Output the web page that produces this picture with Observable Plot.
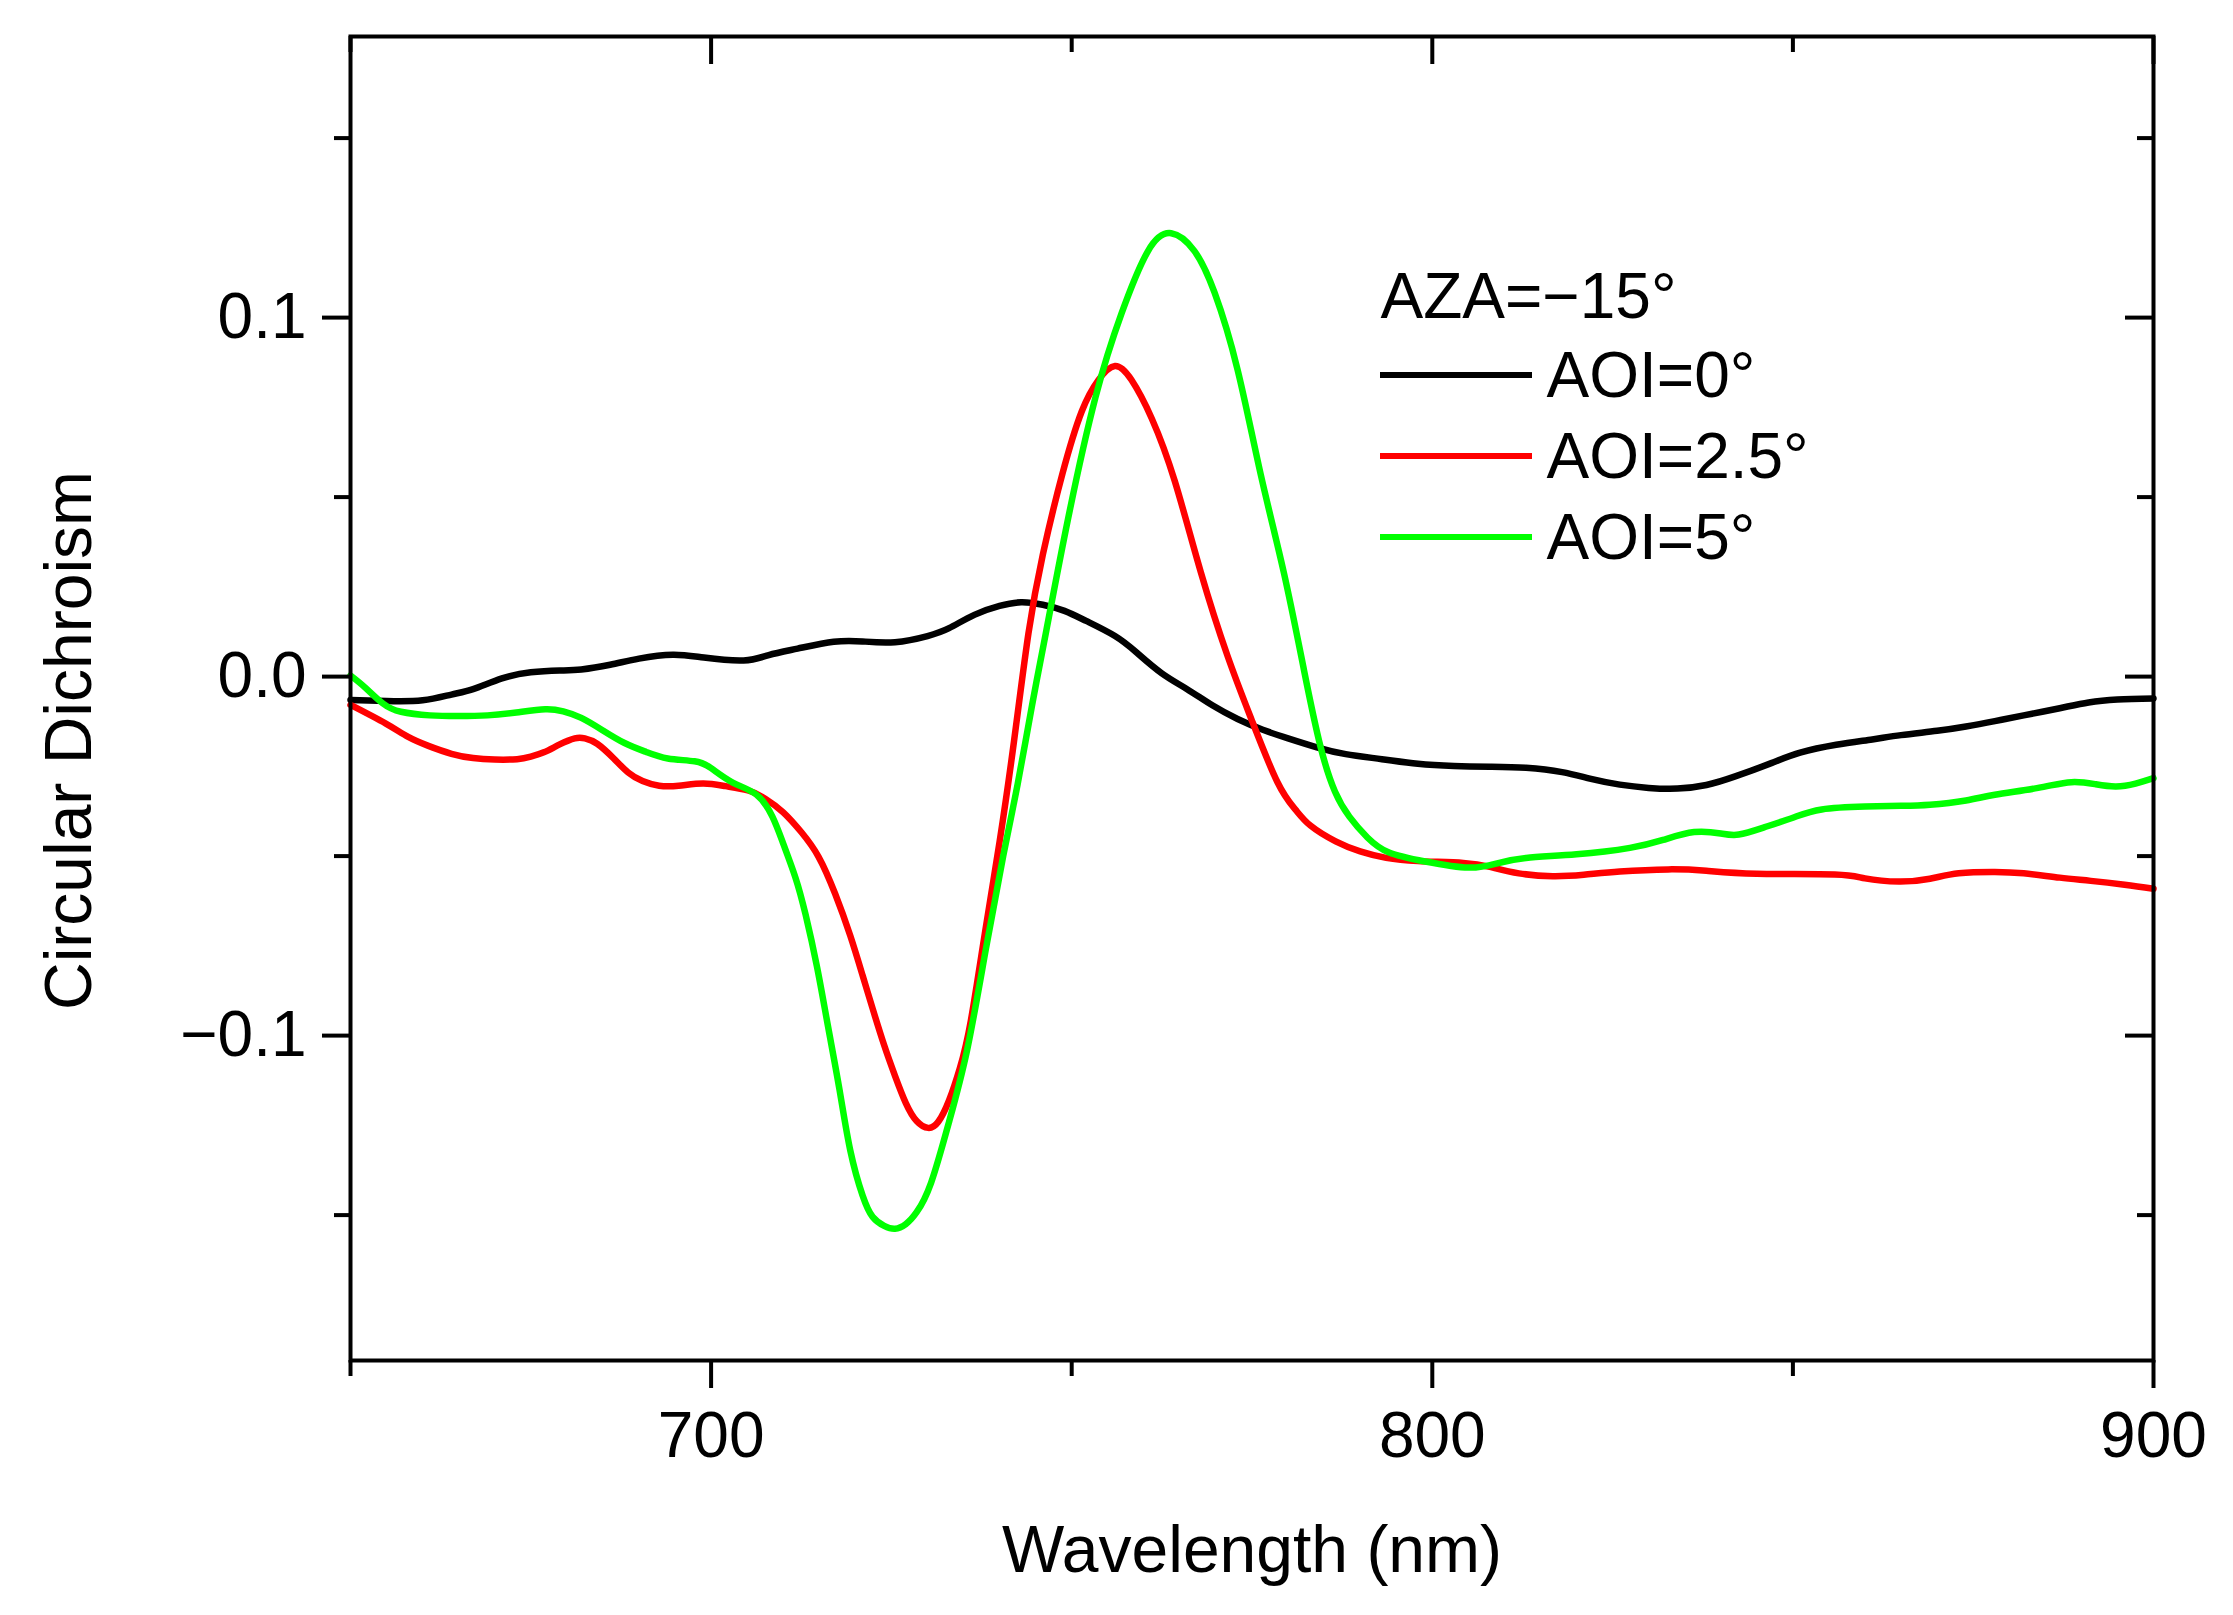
<!DOCTYPE html>
<html>
<head>
<meta charset="utf-8">
<script src="https://cdn.jsdelivr.net/npm/d3@7"></script>
<script src="https://cdn.jsdelivr.net/npm/@observablehq/plot@0.6"></script>
<style>
  body { margin: 0; background: #fff; }
</style>
</head>
<body>
<div id="chart"></div>
<script>
// AOI = 0 deg (black)
const wl0 = [650, 655, 660, 664, 667, 671, 675, 679, 682, 686, 690, 694.7, 699, 704.5, 708, 712, 717, 721, 725.5, 730, 733, 736.5, 740, 743, 746, 749, 752, 756, 759, 762.5, 766, 769.5, 773, 776.5, 780, 784, 788, 793, 798, 803, 808, 813, 818, 822, 826, 830, 834, 838, 842, 847, 851, 856, 861, 865, 870, 874, 878, 882, 887, 891, 895, 900];
const cd0 = [-0.0065, -0.0068, -0.0066, -0.005, -0.0035, -0.0005, 0.0012, 0.0017, 0.002, 0.0033, 0.005, 0.0061, 0.0053, 0.0045, 0.006, 0.0078, 0.0097, 0.0098, 0.0096, 0.0113, 0.0135, 0.0172, 0.0197, 0.0207, 0.02, 0.0183, 0.0155, 0.0113, 0.0067, 0.0009, -0.0035, -0.008, -0.0118, -0.0148, -0.0172, -0.0197, -0.0216, -0.023, -0.0243, -0.0249, -0.0251, -0.0254, -0.0266, -0.0285, -0.0301, -0.031, -0.0312, -0.0302, -0.0278, -0.0241, -0.0212, -0.019, -0.0175, -0.0163, -0.0151, -0.0139, -0.0124, -0.0108, -0.0088, -0.0072, -0.0064, -0.0061];

// AOI = 2.5 deg (red)
const wl25 = [650, 654.9, 658, 660.8, 664, 667, 670, 673.1, 675, 676.8, 679, 681.1, 682.5, 684.2, 686.5, 688.5, 690.5, 692.8, 695.5, 698.9, 702, 705.1, 707.5, 710, 712.5, 714.9, 717.2, 719.3, 721, 722.4, 724, 725.5, 727, 728.5, 730.1, 731.5, 733, 734.5, 736, 738, 740, 742, 744, 746, 748.7, 751.4, 753.7, 756, 758.3, 761.1, 764.3, 767.9, 771.6, 774.9, 778.5, 781, 783.1, 786.6, 790, 793.6, 798, 804.3, 808, 812, 816.7, 821, 826, 832.7, 838, 845, 855.8, 860, 864.7, 869, 873, 878, 882, 887, 891.3, 896, 900];
const cd25 = [-0.0079, -0.0131, -0.0168, -0.0193, -0.0215, -0.0227, -0.0231, -0.023, -0.0223, -0.0211, -0.0189, -0.0172, -0.0172, -0.0187, -0.0228, -0.0267, -0.0291, -0.0304, -0.0304, -0.0298, -0.0305, -0.0317, -0.034, -0.0378, -0.0433, -0.0502, -0.0605, -0.0722, -0.0832, -0.0925, -0.1027, -0.1112, -0.1188, -0.1238, -0.1257, -0.124, -0.118, -0.109, -0.096, -0.071, -0.046, -0.018, 0.012, 0.034, 0.0564, 0.0739, 0.0826, 0.0865, 0.0826, 0.0719, 0.0544, 0.0291, 0.0058, -0.0118, -0.0293, -0.037, -0.0415, -0.0459, -0.0487, -0.0505, -0.0514, -0.0519, -0.053, -0.0548, -0.0556, -0.0552, -0.0543, -0.0537, -0.0541, -0.0549, -0.0551, -0.0562, -0.0571, -0.0563, -0.0548, -0.0544, -0.0548, -0.056, -0.0569, -0.058, -0.0591];

// AOI = 5 deg (green)
const wl5 = [650, 652, 654.5, 657, 661, 665, 669, 673, 677, 679.5, 682, 685, 688, 691, 694, 697.7, 700, 703, 706.3, 708.5, 710, 711.7, 713.1, 714.7, 716.2, 717.8, 719.3, 721, 722.4, 724, 725.5, 727, 728.5, 730.5, 733, 735.5, 738, 740.5, 742.5, 744.5, 746.5, 749.5, 753.3, 756.9, 760.6, 763.8, 767, 769.8, 773, 776.2, 779.4, 782.2, 784.5, 786.5, 788.5, 791, 794, 799, 805, 809, 813, 820, 827.4, 832, 836.3, 840, 842.5, 846, 850, 854, 860, 865, 869, 874, 878, 884, 888.6, 892, 894.8, 897.5, 900];
const cd5 = [0.0003, -0.003, -0.0075, -0.0098, -0.0108, -0.011, -0.0108, -0.01, -0.0091, -0.0097, -0.0115, -0.015, -0.0185, -0.021, -0.0228, -0.0236, -0.0255, -0.0295, -0.0329, -0.039, -0.0465, -0.056, -0.0663, -0.081, -0.0973, -0.115, -0.132, -0.1445, -0.1505, -0.153, -0.1538, -0.1525, -0.1492, -0.141, -0.124, -0.104, -0.077, -0.05, -0.03, -0.008, 0.013, 0.044, 0.0778, 0.1011, 0.1186, 0.1235, 0.1186, 0.107, 0.0855, 0.0564, 0.0291, 0.0019, -0.0195, -0.032, -0.039, -0.0448, -0.049, -0.0515, -0.0532, -0.052, -0.0505, -0.0495, -0.0477, -0.0455, -0.0433, -0.0437, -0.044, -0.042, -0.0393, -0.037, -0.0362, -0.036, -0.0357, -0.0345, -0.0329, -0.031, -0.0294, -0.03, -0.0306, -0.0298, -0.0283];

const seriesNames = ["AOI=0°", "AOI=2.5°", "AOI=5°"];
const seriesColors = ["#000000", "#ff0000", "#00ff00"];
const legendTitle = "AZA=\u221215°";

const xMajor = [700, 800, 900];
const xMinor = [650, 750, 850];
const yMajor = [-0.1, 0, 0.1];
const yMinor = [-0.15, -0.05, 0.05, 0.15];

const rows = (wl, cd, name) => wl.map((w, i) => ({ wl: w, cd: cd[i], series: name }));
const data = [
    ...rows(wl0, cd0, seriesNames[0]),
    ...rows(wl25, cd25, seriesNames[1]),
    ...rows(wl5, cd5, seriesNames[2]),
];

const W = 2233, H = 1615;
const mL = 350, mR = 80, mT = 36, mB = 255;
const frameW = W - mL - mR, frameH = H - mT - mB;
const fmt = d3.format(".1f");

// legend swatches inside the frame
const legendLines = (index, scales, values, dims) => {
    const g = d3.create("svg:g");
    seriesColors.forEach((c, i) => {
        g.append("line")
            .attr("x1", dims.marginLeft + 1030)
            .attr("x2", dims.marginLeft + 1182)
            .attr("y1", dims.marginTop + 339 + i * 81)
            .attr("y2", dims.marginTop + 339 + i * 81)
            .attr("stroke", c)
            .attr("stroke-width", 6);
    });
    return g.node();
};

const chart = Plot.plot({
    width: W,
    height: H,
    marginLeft: mL,
    marginRight: mR,
    marginTop: mT,
    marginBottom: mB,
    style: {
        fontFamily: "'Liberation Sans', Arial, sans-serif",
        fontSize: "64px",
        background: "white",
        color: "black",
        overflow: "visible",
    },
    x: { domain: [650, 900] },
    y: { domain: [-0.1905, 0.1783] },
    color: { domain: seriesNames, range: seriesColors },
    marks: [
        Plot.line(data, {
            x: "wl",
            y: "cd",
            z: "series",
            stroke: "series",
            strokeWidth: 6.5,
            curve: "natural",
        }),
        Plot.frame({ strokeWidth: 4 }),
        // outward ticks, bottom and left
        Plot.axisX(xMajor, { tickSize: 28, tickPadding: 23, strokeWidth: 4, fontSize: 64, label: null }),
        Plot.axisX(xMinor, { tickSize: 16, strokeWidth: 4, tickFormat: () => "", label: null }),
        Plot.axisY(yMajor, { tickSize: 28, tickPadding: 16, strokeWidth: 4, fontSize: 64, tickFormat: fmt, label: null }),
        Plot.axisY(yMinor, { tickSize: 16, strokeWidth: 4, tickFormat: () => "", label: null }),
        // inward ticks, top and right
        Plot.tickX(xMajor, { x: (d) => d, insetBottom: frameH - 28, strokeWidth: 4 }),
        Plot.tickX(xMinor, { x: (d) => d, insetBottom: frameH - 16, strokeWidth: 4 }),
        Plot.tickY(yMajor, { y: (d) => d, insetLeft: frameW - 28, strokeWidth: 4 }),
        Plot.tickY(yMinor, { y: (d) => d, insetLeft: frameW - 16, strokeWidth: 4 }),
        // axis titles
        Plot.text(["Wavelength (nm)"], { frameAnchor: "bottom", lineAnchor: "middle", dy: 190, fontSize: 66 }),
        Plot.text(["Circular Dichroism"], {
            frameAnchor: "left",
            textAnchor: "middle",
            lineAnchor: "middle",
            dx: -281,
            dy: 42,
            rotate: -90,
            fontSize: 66,
        }),
        // legend
        Plot.text([legendTitle], {
            frameAnchor: "top-left",
            textAnchor: "start",
            lineAnchor: "middle",
            dx: 1030,
            dy: 261,
            fontSize: 64,
        }),
        ...seriesNames.map((name, i) =>
            Plot.text([name], {
                frameAnchor: "top-left",
                textAnchor: "start",
                lineAnchor: "middle",
                dx: 1196,
                dy: 340 + i * 81,
                fontSize: 64,
            })
        ),
        legendLines,
    ],
});

document.getElementById("chart").appendChild(chart);
</script>
</body>
</html>
